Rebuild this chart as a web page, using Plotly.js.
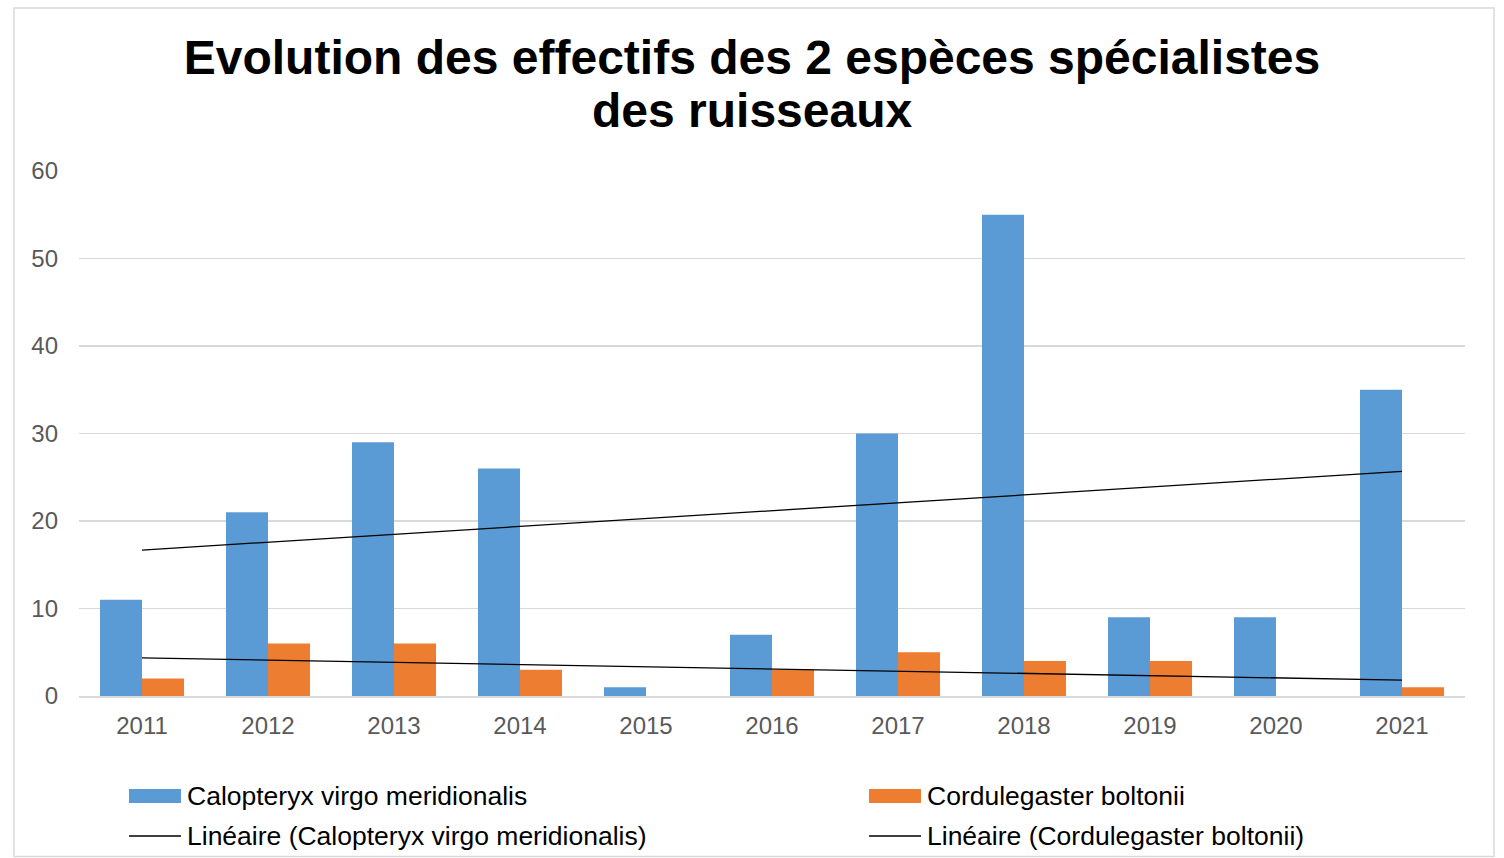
<!DOCTYPE html>
<html>
<head>
<meta charset="utf-8">
<script src="https://cdn.plot.ly/plotly-3.0.1.min.js"></script>
<style>
html,body{margin:0;padding:0;background:#fff;}
#chart{width:1504px;height:858px;}
</style>
</head>
<body>
<div id="chart"></div>
<script>
const years = ['2011','2012','2013','2014','2015','2016','2017','2018','2019','2020','2021'];
const calopteryx = [11,21,29,26,1,7,30,55,9,9,35];
const cordulegaster = [2,6,6,3,0,3,5,4,4,0,1];
const seriesNames = ['Calopteryx virgo meridionalis','Cordulegaster boltonii'];
const trendNames = ['Linéaire (Calopteryx virgo meridionalis)','Linéaire (Cordulegaster boltonii)'];
const colors = ['#5b9bd5','#ed7d31'];
const titleLines = ['Evolution des effectifs des 2 espèces spécialistes','des ruisseaux'];

function linfit(vals){
  const n = vals.length;
  let sx=0, sy=0;
  for(let i=0;i<n;i++){sx+=i; sy+=vals[i];}
  const mx=sx/n, my=sy/n;
  let sxy=0, sxx=0;
  for(let i=0;i<n;i++){sxy+=(i-mx)*(vals[i]-my); sxx+=(i-mx)*(i-mx);}
  const b=sxy/sxx, a=my-b*mx;
  return vals.map((_,i)=>a+b*i);
}

const font = 'Liberation Sans, Arial, sans-serif';
const traces = [
  {type:'bar', x:years, y:calopteryx, name:seriesNames[0], marker:{color:colors[0]}, showlegend:false},
  {type:'bar', x:years, y:cordulegaster, name:seriesNames[1], marker:{color:colors[1]}, showlegend:false},
  {type:'scatter', mode:'lines', x:years, y:linfit(calopteryx), name:trendNames[0], line:{color:'#000', width:1.3}, showlegend:false},
  {type:'scatter', mode:'lines', x:years, y:linfit(cordulegaster), name:trendNames[1], line:{color:'#000', width:1.3}, showlegend:false}
];

// pixel -> paper helpers (plot area: x 79..1465, y 171..696)
const L=79, R=1465, T=171, B=696;
const px = v => (v-L)/(R-L);
const py = v => (B-v)/(B-T);

const legendItems = [
  {name:seriesNames[0], kind:'box', color:colors[0], x:129, y:796},
  {name:seriesNames[1], kind:'box', color:colors[1], x:869, y:796},
  {name:trendNames[0], kind:'line', color:'#000', x:129, y:836},
  {name:trendNames[1], kind:'line', color:'#000', x:869, y:836}
];
const shapes = [
  {type:'rect', xref:'paper', yref:'paper', x0:px(14), x1:px(1494), y0:py(8), y1:py(856.5), line:{color:'#d9d9d9', width:1.5}, fillcolor:'rgba(0,0,0,0)', layer:'below'}
];
const titleFont = {family:font, size:48, color:'#000', weight:'bold'};
const annotations = [
  {xref:'paper', yref:'paper', x:px(752), y:py(111), xanchor:'center', yanchor:'middle', text:titleLines[1], showarrow:false, font:titleFont}
];
legendItems.forEach(it=>{
  if(it.kind==='box'){
    shapes.push({type:'rect', xref:'paper', yref:'paper', x0:px(it.x), x1:px(it.x+52), y0:py(it.y+7), y1:py(it.y-7), line:{width:0}, fillcolor:it.color});
  } else {
    shapes.push({type:'line', xref:'paper', yref:'paper', x0:px(it.x), x1:px(it.x+52), y0:py(it.y), y1:py(it.y), line:{color:it.color, width:1.3}});
  }
  annotations.push({xref:'paper', yref:'paper', x:px(it.x+56), y:py(it.y), xanchor:'left', yanchor:'middle', text:it.name, showarrow:false, font:{family:font, size:26.5, color:'#000'}});
});

const layout = {
  width:1504, height:858,
  margin:{l:L, r:1504-R, t:T, b:858-B, pad:0},
  paper_bgcolor:'#fff', plot_bgcolor:'#fff',
  font:{family:font},
  title:{text:titleLines[0], x:0.5, xref:'container', xanchor:'center', y:1-57/858, yref:'container', yanchor:'middle', font:titleFont},
  barmode:'group', bargap:0.333, bargroupgap:0,
  showlegend:false,
  xaxis:{type:'category', showgrid:false, showline:true, linecolor:'#d9d9d9', linewidth:1.5, ticks:'', tickfont:{family:font, size:24, color:'#595959'}, ticklabelstandoff:8, fixedrange:true},
  yaxis:{range:[0,60], dtick:10, tick0:0, showgrid:true, gridcolor:'#d9d9d9', gridwidth:1.5, zeroline:false, showline:false, ticks:'', tickfont:{family:font, size:24, color:'#595959'}, ticklabelstandoff:20, fixedrange:true},
  shapes:shapes,
  annotations:annotations
};

Plotly.newPlot('chart', traces, layout, {displayModeBar:false, staticPlot:true});
</script>
</body>
</html>
